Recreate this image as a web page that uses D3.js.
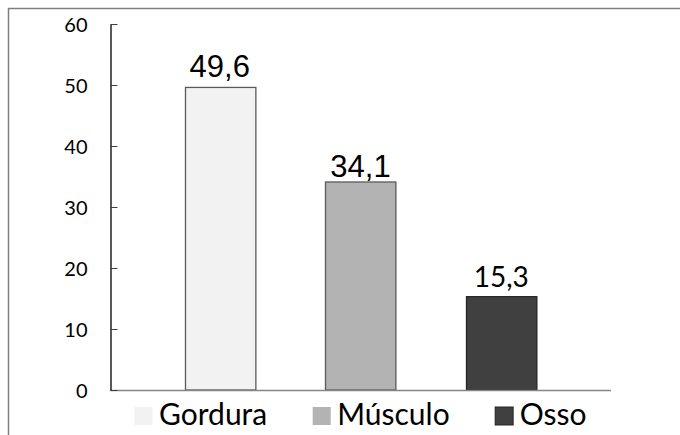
<!DOCTYPE html>
<html>
<head>
<meta charset="utf-8">
<script src="https://cdn.jsdelivr.net/npm/d3@7"></script>
<style>
  body { margin: 0; background: #fff; }
  svg { display: block; }
</style>
</head>
<body>
<script>
// Data
var categories = ["Gordura", "Músculo", "Osso"]
var values = [49.6, 34.1, 15.3]
var yTicks = [0, 10, 20, 30, 40, 50, 60]

// Look of each bar (fill, outline) and the font its value label uses
var fills = ["#f2f2f2", "#b3b3b3", "#404040"]
var strokes = ["#595959", "#595959", "#262626"]
var labelFonts = ["'Liberation Sans', Arial, sans-serif", "'Liberation Sans', Arial, sans-serif", "Lato, sans-serif"]

var width = 680, height = 435
var plot = {left: 110, right: 611, top: 24, bottom: 390}

// comma as decimal mark
var ptBR = d3.formatLocale({decimal: ",", thousands: ".", grouping: [3], currency: ["R$", ""]})
var fmt = ptBR.format(".1f")

var svg = d3.select("body").append("svg")
    .attr("width", width)
    .attr("height", height)

// outer frame (runs off the right and bottom edge)
svg.append("rect")
    .attr("x", 8.5).attr("y", 8.5)
    .attr("width", width).attr("height", height)
    .attr("fill", "none")
    .attr("stroke", "#7f7f7f")
    .attr("stroke-width", 1.5)

var xScale = d3.scaleBand()
    .domain(categories)
    .range([plot.left, plot.right])
    .paddingInner(0.5)
    .paddingOuter(0.53)

var yScale = d3.scaleLinear()
    .domain([0, 60])
    .range([plot.bottom, plot.top])

// bars
svg.append("g").selectAll("rect")
    .data(values)
    .join("rect")
    .attr("x", (d, i) => Math.round(xScale(categories[i])) + 0.5)
    .attr("y", d => yScale(d))
    .attr("width", xScale.bandwidth())
    .attr("height", d => yScale(0) - yScale(d))
    .attr("fill", (d, i) => fills[i])
    .attr("stroke", (d, i) => strokes[i])
    .attr("stroke-width", 1.3)

// value labels on top of the bars
svg.append("g").selectAll("text")
    .data(values)
    .join("text")
    .attr("x", (d, i) => xScale(categories[i]) + xScale.bandwidth() / 2)
    .attr("y", (d, i) => yScale(d) - (i == 1 ? 5 : 10))
    .attr("text-anchor", "middle")
    .attr("font-family", (d, i) => labelFonts[i])
    .attr("font-size", (d, i) => i < 2 ? 31 : 28)
    .attr("fill", "#000")
    .text(d => fmt(d))

// x axis: plain grey baseline
svg.append("line")
    .attr("x1", plot.left).attr("x2", plot.right)
    .attr("y1", plot.bottom + 0.5).attr("y2", plot.bottom + 0.5)
    .attr("stroke", "#868686")
    .attr("stroke-width", 1.3)

// y axis, ticks pointing inward
var yAxis = svg.append("g")
    .attr("transform", "translate(" + (plot.left + 0.5) + ",0)")
    .call(d3.axisLeft(yScale)
        .tickValues(yTicks)
        .tickSizeInner(-7)
        .tickSizeOuter(0)
        .tickPadding(23)
        .tickFormat(d3.format("d")))

yAxis.select(".domain").attr("stroke", "#000").attr("stroke-width", 1.3)
yAxis.selectAll(".tick line").attr("stroke", "#404040")
yAxis.selectAll(".tick text")
    .attr("font-family", "Lato, sans-serif")
    .attr("font-size", 20)
    .attr("fill", "#000")
    .attr("dy", "0.36em")

// legend along the bottom, centred under the plot
var legend = svg.append("g")
var item = legend.selectAll("g")
    .data(categories)
    .join("g")

item.append("rect")
    .attr("width", 18).attr("height", 18)
    .attr("y", 407)
    .attr("fill", (d, i) => fills[i])
    .attr("stroke", (d, i) => i == 2 ? strokes[i] : "none")

item.append("text")
    .attr("y", 425)
    .attr("font-family", "Lato, sans-serif")
    .attr("font-size", 30)
    .attr("fill", "#000")
    .text(d => d)

var x = 0
item.each(function() {
    var g = d3.select(this)
    var w = g.select("text").node().getComputedTextLength()
    g.select("rect").attr("x", x + 0.5)
    g.select("text").attr("x", x + 25)
    x += 25 + w + 45
})
var total = x - 45
legend.attr("transform", "translate(" + Math.round((plot.left + plot.right) / 2 - total / 2) + ",0)")
</script>
</body>
</html>
